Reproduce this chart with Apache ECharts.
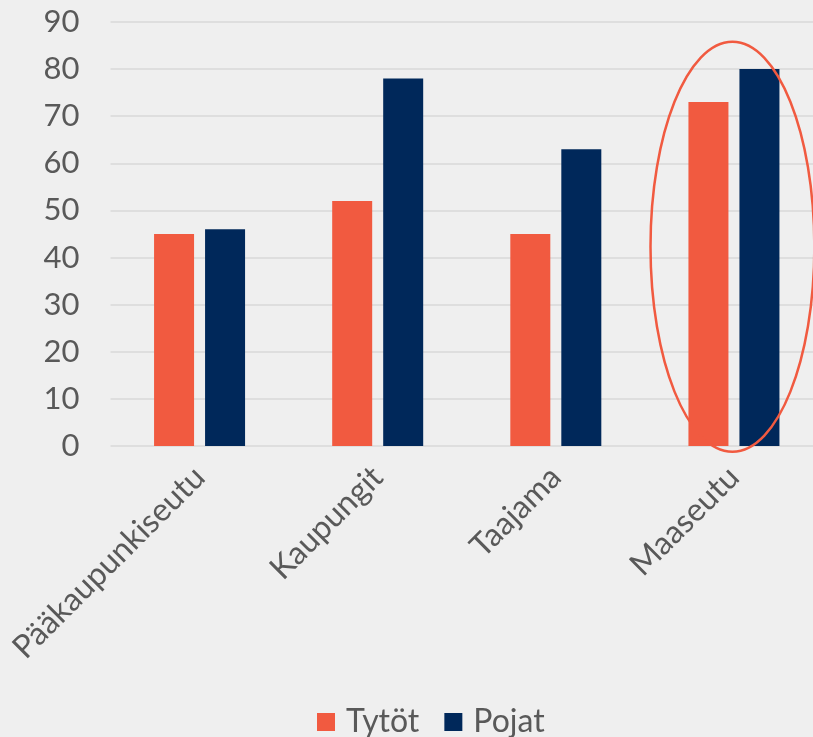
<!DOCTYPE html>
<html>
<head>
<meta charset="utf-8">
<script src="https://cdn.jsdelivr.net/npm/echarts@6/dist/echarts.min.js"></script>
<style>
    html, body { margin: 0; padding: 0; background: #efefef; overflow: hidden; }
    #main { width: 823px; height: 737px; }
</style>
</head>
<body>
<div id="main"></div>
<script>
    // data
    var categories = ['Pääkaupunkiseutu', 'Kaupungit', 'Taajama', 'Maaseutu'];
    var tytot = [45, 52, 45, 73];
    var pojat = [46, 78, 63, 80];
    var seriesNames = ['Tytöt', 'Pojat'];

    var labelColor = '#595959';
    var font = 'Lato, "Noto Sans", sans-serif';

    var myChart = echarts.init(document.getElementById('main'));
    myChart.setOption({
        backgroundColor: '#efefef',
        color: ['#f15a40', '#00285a'],
        animation: false,
        grid: {
            left: 110.5,
            right: 0,
            top: 22,
            bottom: 291
        },
        legend: {
            data: seriesNames,
            left: 312,
            top: 701,
            itemWidth: 18,
            itemHeight: 18,
            itemGap: 25,
            icon: 'rect',
            textStyle: {
                color: labelColor,
                fontSize: 32,
                fontFamily: font,
                padding: [0, 0, 0, 6]
            }
        },
        xAxis: {
            type: 'category',
            data: categories,
            axisLine: { show: false },
            axisTick: { show: false },
            axisLabel: {
                rotate: 45,
                margin: 26,
                color: labelColor,
                fontSize: 32,
                fontFamily: font
            }
        },
        yAxis: {
            type: 'value',
            min: 0,
            max: 90,
            interval: 10,
            axisLine: { show: false },
            axisLabel: {
                margin: 31,
                color: labelColor,
                fontSize: 31,
                fontFamily: font
            },
            splitLine: {
                lineStyle: { color: '#d9d9d9', width: 1.5 }
            }
        },
        series: [
            {
                name: seriesNames[0],
                type: 'bar',
                barWidth: 40,
                barGap: '27.5%',
                data: tytot
            },
            {
                name: seriesNames[1],
                type: 'bar',
                barWidth: 40,
                data: pojat
            }
        ]
    });

    // ellipse round the last category, placed through the axes
    var ellC = myChart.convertToPixel({ xAxisIndex: 0, yAxisIndex: 0 }, ['Maaseutu', 42.3]);
    var ellTop = myChart.convertToPixel({ yAxisIndex: 0 }, 85.8);
    var catStep = myChart.convertToPixel({ xAxisIndex: 0 }, 'Maaseutu') - myChart.convertToPixel({ xAxisIndex: 0 }, 'Taajama');
    myChart.setOption({
        graphic: [{
            type: 'ellipse',
            shape: { cx: ellC[0] - 1.5, cy: ellC[1], rx: catStep * 0.46, ry: ellC[1] - ellTop },
            style: { fill: 'none', stroke: '#f15a40', lineWidth: 2.5 },
            z: 10
        }]
    });
</script>
</body>
</html>
